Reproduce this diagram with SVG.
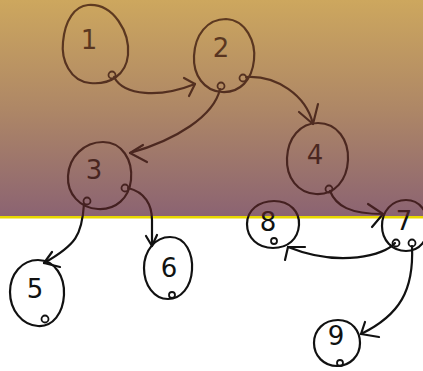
<svg xmlns="http://www.w3.org/2000/svg" width="423" height="371" viewBox="0 0 423 371">
<defs>
<linearGradient id="bg" x1="0" y1="0" x2="0" y2="1">
<stop offset="0" stop-color="#CDA75E"/>
<stop offset="0.5" stop-color="#AE8766"/>
<stop offset="1" stop-color="#8B6372"/>
</linearGradient>
<linearGradient id="ink" gradientUnits="userSpaceOnUse" x1="0" y1="0" x2="0" y2="371">
<stop offset="0" stop-color="#603C20"/>
<stop offset="0.58" stop-color="#421E20"/>
<stop offset="0.585" stop-color="#111111"/>
<stop offset="1" stop-color="#111111"/>
</linearGradient>
</defs>
<style>
.o{fill:none;stroke:url(#ink);stroke-width:2.2;stroke-linecap:round;stroke-linejoin:round}
.p{fill:none;stroke:url(#ink);stroke-width:1.8}
.t{fill:url(#ink);font-family:"DejaVu Sans",sans-serif;font-size:26px;font-weight:normal;text-anchor:middle}
.e{fill:none;stroke:url(#ink);stroke-width:2.2;stroke-linecap:round;stroke-linejoin:round}
</style>
<rect x="0" y="0" width="423" height="217" fill="url(#bg)"/>
<rect x="0" y="217" width="423" height="154" fill="#FFFFFF"/>
<rect x="0" y="216" width="423" height="2.5" fill="#E8D800"/>

<g id="connectors">
<path class="e" d="M114 77 C124 96 160 98 195 84"/>
<path class="e" d="M184 78 L195 84 L189 96"/>
<path class="e" d="M220 89 C214 116 176 140 130 153"/>
<path class="e" d="M143 145 L130 153 L147 162"/>
<path class="e" d="M246 77 C276 75 306 95 313 124"/>
<path class="e" d="M299 112 L313 124 L318 104"/>
<path class="e" d="M330 191 C336 206 350 214 383 214"/>
<path class="e" d="M368 204 L383 214 L372 227"/>
<path class="e" d="M84 204 C82 235 76 245 44 263"/>
<path class="e" d="M52 252 L44 263 L60 267"/>
<path class="e" d="M128 188 C145 192 152 205 152 220 L152 245"/>
<path class="e" d="M146 236 L152 246 L157 235"/>
<path class="e" d="M395 243 C385 255 340 268 288 247"/>
<path class="e" d="M305 247 L288 247 L285 260"/>
<path class="e" d="M412 246 C414 290 400 315 361 334"/>
<path class="e" d="M365 322 L361 334 L379 337"/>
</g>

<g id="node1">
<path class="o" d="M88 5 C114 3 130 33 128 55 C126 75 110 85 90 83 C70 81 61 60 63 42 C65 20 75 6 88 5 Z"/>
<circle class="p" cx="112" cy="75" r="3.5"/>
<text class="t" x="89" y="49">1</text>
</g>
<g id="node2">
<path class="o" d="M226 19 C246 20 256 42 254 60 C252 80 240 93 222 92 C204 91 193 75 194 56 C195 35 207 19 226 19 Z"/>
<circle class="p" cx="221" cy="86" r="3.5"/>
<circle class="p" cx="243" cy="78" r="3.5"/>
<text class="t" x="221" y="57">2</text>
</g>
<g id="node3">
<path class="o" d="M103 142 C122 142 133 160 131 180 C129 198 116 210 98 209 C80 208 67 194 68 176 C69 157 84 142 103 142 Z"/>
<circle class="p" cx="87" cy="201" r="3.5"/>
<circle class="p" cx="125" cy="188" r="3.5"/>
<text class="t" x="94" y="179">3</text>
</g>
<g id="node4">
<path class="o" d="M318 123 C337 123 349 140 348 160 C347 180 335 195 316 194 C298 193 286 178 287 158 C288 138 300 123 318 123 Z"/>
<circle class="p" cx="329" cy="189" r="3.5"/>
<text class="t" x="315" y="164">4</text>
</g>
<g id="node5">
<path class="o" d="M38 260 C55 260 65 277 64 295 C63 313 53 327 38 326 C22 325 10 310 10 292 C10 274 22 260 38 260 Z"/>
<circle class="p" cx="45" cy="319" r="3.5"/>
<text class="t" x="35" y="298">5</text>
</g>
<g id="node6">
<path class="o" d="M170 237 C186 237 193 254 192 270 C191 287 181 299 168 299 C154 299 144 285 144 268 C144 251 155 237 170 237 Z"/>
<circle class="p" cx="172" cy="295" r="3"/>
<text class="t" x="169" y="277">6</text>
</g>
<g id="node8">
<path class="o" d="M274 201 C290 201 300 212 299 225 C298 239 288 248 273 248 C258 248 247 238 247 224 C247 210 259 201 274 201 Z"/>
<circle class="p" cx="274" cy="241" r="3"/>
<text class="t" x="268" y="231">8</text>
</g>
<g id="node7">
<path class="o" d="M406 200 C420 200 428 212 428 226 C428 240 420 251 406 251 C392 251 382 240 382 226 C382 211 392 200 406 200 Z"/>
<circle class="p" cx="396" cy="243" r="3.5"/>
<circle class="p" cx="412" cy="243" r="3.5"/>
<text class="t" x="404" y="230">7</text>
</g>
<g id="node9">
<path class="o" d="M338 320 C352 320 360 331 360 343 C360 356 350 366 337 366 C324 366 314 356 314 343 C314 330 324 320 338 320 Z"/>
<circle class="p" cx="340" cy="363" r="3"/>
<text class="t" x="336" y="345">9</text>
</g>
</svg>
